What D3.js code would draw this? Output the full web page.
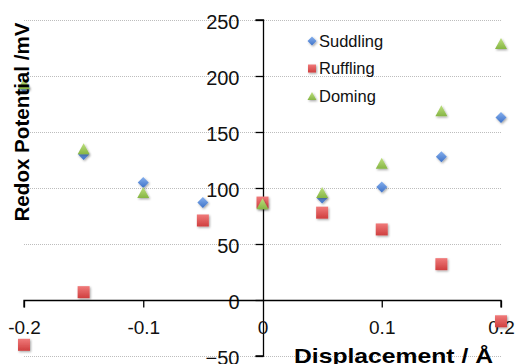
<!DOCTYPE html>
<html>
<head>
<meta charset="utf-8">
<script src="https://cdn.jsdelivr.net/npm/d3@7"></script>
<style>
html,body{margin:0;padding:0;background:#fff;}
svg{display:block;font-family:"Liberation Sans",Arial,Helvetica,sans-serif;}
</style>
</head>
<body>
<svg id="chart" width="516" height="364"></svg>
<script>
// ---- data ----
const displacement = [-0.2, -0.15, -0.1, -0.05, 0, 0.05, 0.1, 0.15, 0.2];
const suddling = [190, 130, 105, 87, 86, 91, 101, 128, 163];
const ruffling = [-40, 7, null, 71, 87, 78, 63, 32, -19];
const doming   = [193, 135, 96, null, 86, 96, 122, 169, 229];
const seriesNames = ["Suddling", "Ruffling", "Doming"];
const yTicks = [-50, 0, 50, 100, 150, 200, 250];
const xTicks = [-0.2, -0.1, 0, 0.1, 0.2];
const xTickLabels = ["-0.2", "-0.1", "0", "0.1", "0.2"];
const yTitle = "Redox Potential /mV";
const xTitle = "Displacement / Å";

const svg = d3.select("#chart");
const x = d3.scaleLinear().domain([-0.2, 0.2]).range([24, 501]);
const y = d3.scaleLinear().domain([-50, 250]).range([356, 20]);

// defs: gradients and shadow
const defs = svg.append("defs");
const grads = [
  {id: "gBlue", top: "#86b0ee", bot: "#3e72c8"},
  {id: "gRed", top: "#f07a7a", bot: "#cf3f3f"},
  {id: "gGreen", top: "#bde07e", bot: "#86b544"}
];
grads.forEach(g => {
  const lg = defs.append("linearGradient").attr("id", g.id)
    .attr("x1", 0).attr("y1", 0).attr("x2", 0).attr("y2", 1);
  lg.append("stop").attr("offset", "0%").attr("stop-color", g.top);
  lg.append("stop").attr("offset", "100%").attr("stop-color", g.bot);
});
const f = defs.append("filter").attr("id", "sh").attr("x", "-50%").attr("y", "-50%").attr("width", "200%").attr("height", "200%");
f.append("feDropShadow").attr("dx", 1).attr("dy", 1.2).attr("stdDeviation", 0.9)
  .attr("flood-color", "#000").attr("flood-opacity", 0.35);

// shape generators (relative to a marker centre)
function diamondPath(w, h) { return `M0,${-h/2}L${w/2},0L0,${h/2}L${-w/2},0Z`; }
function squarePath(s) { return `M${-s/2},${-s/2}h${s}v${s}h${-s}Z`; }
function trianglePath(w, h) { return `M0,${-h/2}L${w/2},${h/2}L${-w/2},${h/2}Z`; }

const shapes = [
  {name: seriesNames[0], vals: suddling, fill: "url(#gBlue)", path: diamondPath(11, 11), lpath: diamondPath(9, 9)},
  {name: seriesNames[1], vals: ruffling, fill: "url(#gRed)", path: squarePath(12), lpath: squarePath(8)},
  {name: seriesNames[2], vals: doming, fill: "url(#gGreen)", path: trianglePath(12, 11), lpath: trianglePath(9, 8)}
];

// gridlines
svg.append("g").selectAll("line").data(yTicks.filter(t => t !== 0)).join("line")
  .attr("x1", x(-0.2)).attr("x2", x(0.2))
  .attr("y1", d => y(d) + 0.5).attr("y2", d => y(d) + 0.5)
  .attr("stroke", "#bdbdbd").attr("stroke-width", 1).attr("stroke-dasharray", "1,1");

// y axis at x=0
const yAxis = d3.axisLeft(y).tickValues(yTicks).tickSize(8).tickPadding(16).tickFormat(d3.format("d"));
const gy = svg.append("g").attr("transform", `translate(${Math.round(x(0)) + 0.5},0)`).call(yAxis);
gy.select(".domain").attr("stroke", "#000").attr("stroke-width", 1.3).attr("d", `M-8,${y(250)}H0V${y(-50)}H-8`);
gy.selectAll(".tick line").attr("stroke", "#000").attr("stroke-width", 1.3);
gy.selectAll(".tick text").attr("font-size", 20).attr("fill", "#111")
  .attr("font-family", "Liberation Sans, Arial, sans-serif").attr("dy", "0.4em");

// x axis at y=0
const xAxis = d3.axisBottom(x).tickValues(xTicks).tickSize(7).tickPadding(13)
  .tickFormat((d, i) => xTickLabels[i]);
const gx = svg.append("g").attr("transform", `translate(0,${Math.round(y(0)) + 0.5})`).call(xAxis);
gx.select(".domain").attr("stroke", "#000").attr("stroke-width", 1.3).attr("d", `M${x(-0.2)},7V0H${x(0.2)}V7`);
gx.selectAll(".tick line").attr("stroke", "#000").attr("stroke-width", 1.3);
gx.selectAll(".tick").filter(d => d === 0).select("line").remove();
gx.selectAll(".tick text").attr("font-size", 19).attr("fill", "#111")
  .attr("font-family", "Liberation Sans, Arial, sans-serif");

// markers
shapes.forEach(s => {
  const pts = displacement.map((d, i) => ({x: d, y: s.vals[i]})).filter(p => p.y !== null);
  svg.append("g").selectAll("path").data(pts).join("path")
    .attr("transform", p => `translate(${x(p.x)},${y(p.y)})`)
    .attr("d", s.path).attr("fill", s.fill).attr("filter", "url(#sh)");
});

// axis titles
svg.append("text").attr("transform", `translate(29,${122}) rotate(-90)`)
  .attr("text-anchor", "middle").attr("font-size", 21).attr("font-weight", "bold")
  .attr("textLength", 199).attr("lengthAdjust", "spacingAndGlyphs")
  .attr("fill", "#000").text(yTitle);
svg.append("text").attr("x", 294).attr("y", 363)
  .attr("font-size", 21).attr("font-weight", "bold")
  .attr("textLength", 199).attr("lengthAdjust", "spacingAndGlyphs")
  .attr("fill", "#000").text(xTitle);

// legend
const leg = svg.append("g").selectAll("g").data(shapes).join("g")
  .attr("transform", (d, i) => `translate(312,${41 + i * 27.5})`);
leg.append("path").attr("d", d => d.lpath).attr("fill", d => d.fill).attr("filter", "url(#sh)");
leg.append("text").attr("x", 7).attr("dy", "0.36em").attr("font-size", 16.5).attr("fill", "#111")
  .text(d => d.name);
</script>
</body>
</html>
